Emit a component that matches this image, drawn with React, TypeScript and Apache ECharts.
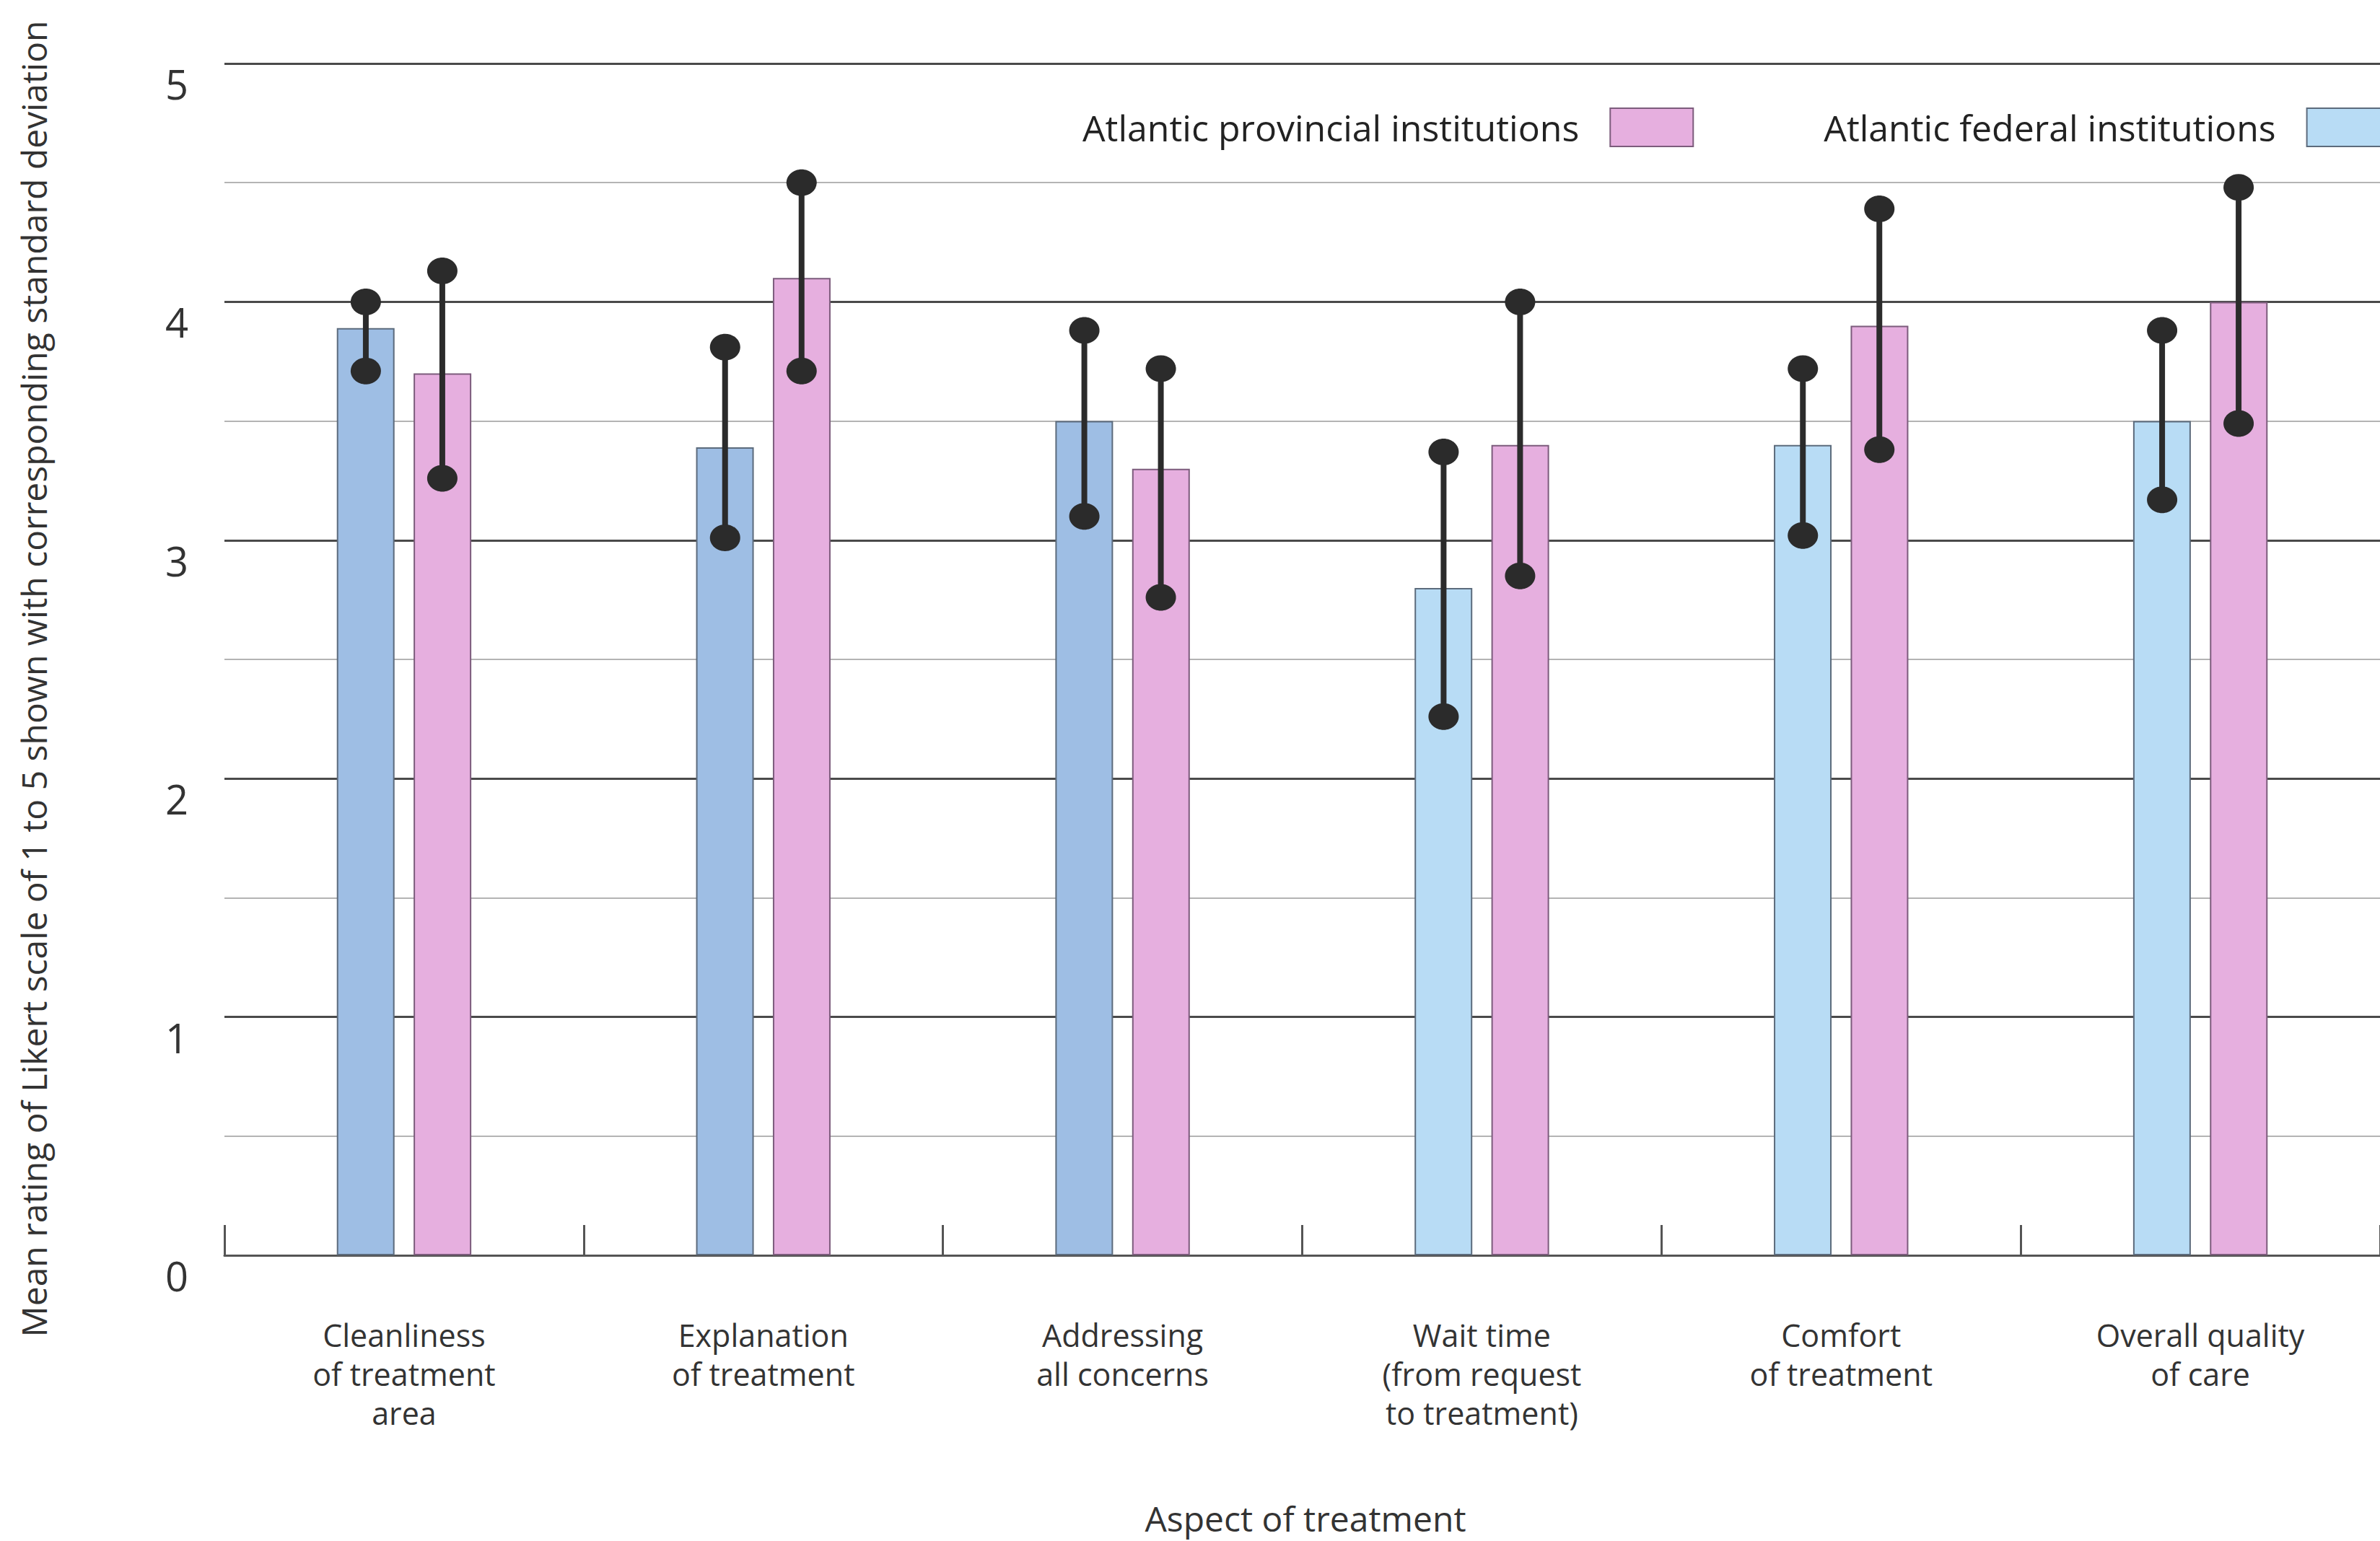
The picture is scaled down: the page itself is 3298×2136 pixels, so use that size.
import React, { useEffect, useRef } from "react";
import * as echarts from "echarts";

const categories = [
  "Cleanliness\nof treatment\narea",
  "Explanation\nof treatment",
  "Addressing\nall concerns",
  "Wait time\n(from request\nto treatment)",
  "Comfort\nof treatment",
  "Overall quality\nof care",
];
const yTicks = [0, 1, 2, 3, 4, 5];

const federalName = "Atlantic federal institutions";
const provincialName = "Atlantic provincial institutions";

const federalMean = [3.89, 3.39, 3.5, 2.8, 3.4, 3.5];
const federalLow = [3.71, 3.01, 3.1, 2.26, 3.02, 3.17];
const federalHigh = [4.0, 3.81, 3.88, 3.37, 3.72, 3.88];

const provincialMean = [3.7, 4.1, 3.3, 3.4, 3.9, 4.0];
const provincialLow = [3.26, 3.71, 2.76, 2.85, 3.38, 3.49];
const provincialHigh = [4.13, 4.5, 3.72, 4.0, 4.39, 4.48];

const FONT = "'Open Sans', 'Noto Sans', sans-serif";
const BAR_W = 80;
const BAR_OFFSET = 53;
const federalColors = ["#9ebee4", "#9ebee4", "#9ebee4", "#b8dcf5", "#b8dcf5", "#b8dcf5"];
const pinkColor = "#e6afdf";

function sdRender(offset: number) {
  return (params: any, api: any) => {
    const idx = api.value(0);
    const x = api.coord([idx, 0])[0] + offset;
    const yLow = api.coord([idx, api.value(1)])[1];
    const yHigh = api.coord([idx, api.value(2)])[1];
    const c = "#2b2b2b";
    return {
      type: "group",
      children: [
        { type: "line", shape: { x1: x, y1: yLow, x2: x, y2: yHigh }, style: { stroke: c, lineWidth: 8 } },
        { type: "ellipse", shape: { cx: x, cy: yHigh, rx: 21, ry: 18.5 }, style: { fill: c } },
        { type: "ellipse", shape: { cx: x, cy: yLow, rx: 21, ry: 18.5 }, style: { fill: c } },
      ],
    };
  };
}

export default function App() {
  const ref = useRef<HTMLDivElement>(null);
  useEffect(() => {
    if (!ref.current) return;
    const chart = echarts.init(ref.current, undefined, { renderer: "svg" });
    const option: any = {
      animation: false,
      backgroundColor: "#ffffff",
      textStyle: { fontFamily: FONT },
      grid: { left: 311, right: -7, top: 88, bottom: 396 },
      legend: {
        data: [provincialName, federalName],
        left: 1495,
        top: 144,
        align: "right",
        icon: "rect",
        itemWidth: 115,
        itemHeight: 53,
        itemGap: 180,
        selectedMode: false,
        textStyle: { fontSize: 50, color: "#222", fontFamily: FONT, padding: [0, 38, 0, 0] },
      },
      xAxis: {
        type: "category",
        data: categories,
        axisLine: { show: true, lineStyle: { color: "#555", width: 3 } },
        axisTick: { show: true, inside: true, length: 42, lineStyle: { color: "#555", width: 3 } },
        axisLabel: { fontSize: 43, lineHeight: 54, color: "#333", margin: 83, fontFamily: FONT, interval: 0 },
        splitLine: { show: false },
      },
      yAxis: {
        type: "value",
        min: 0,
        max: 5,
        interval: 1,
        axisLine: { show: false },
        axisTick: { show: false },
        axisLabel: {
          fontSize: 56,
          color: "#333",
          margin: 50,
          verticalAlign: "top",
          fontFamily: FONT,
          formatter: (v: number) => (yTicks.includes(v) ? String(v) : ""),
        },
        splitLine: { show: true, lineStyle: { color: "#4a4a4a", width: 3 } },
        minorTick: { show: false, splitNumber: 2 },
        minorSplitLine: { show: true, lineStyle: { color: "#b4b4b4", width: 2 } },
      },
      graphic: [
        {
          type: "text",
          x: 46,
          y: 941,
          rotation: Math.PI / 2,
          style: {
            text: "Mean rating of Likert scale of 1 to 5 shown with corresponding standard deviation",
            fontSize: 48,
            fontFamily: FONT,
            fill: "#333",
            textAlign: "center",
            textVerticalAlign: "middle",
          },
        },
        {
          type: "text",
          x: 1809,
          y: 2104,
          style: {
            text: "Aspect of treatment",
            fontSize: 48,
            fontFamily: FONT,
            fill: "#333",
            textAlign: "center",
            textVerticalAlign: "middle",
          },
        },
      ],
      series: [
        {
          name: federalName,
          type: "bar",
          barWidth: BAR_W,
          barGap: "33%",
          itemStyle: { color: "#b8dcf5", borderColor: "#5c6b7c", borderWidth: 2 },
          data: federalMean.map((v, i) => ({ value: v, itemStyle: { color: federalColors[i] } })),
        },
        {
          name: provincialName,
          type: "bar",
          barWidth: BAR_W,
          barGap: "33%",
          itemStyle: { color: pinkColor, borderColor: "#7c5c7c", borderWidth: 2 },
          data: provincialMean,
        },
        {
          name: "federal SD",
          type: "custom",
          renderItem: sdRender(-BAR_OFFSET),
          encode: { x: 0, y: [1, 2] },
          z: 10,
          data: federalMean.map((_, i) => [i, federalLow[i], federalHigh[i]]),
        },
        {
          name: "provincial SD",
          type: "custom",
          renderItem: sdRender(BAR_OFFSET),
          encode: { x: 0, y: [1, 2] },
          z: 10,
          data: provincialMean.map((_, i) => [i, provincialLow[i], provincialHigh[i]]),
        },
      ],
    };
    chart.setOption(option);
    return () => chart.dispose();
  }, []);
  return (
    <div
      ref={ref}
      style={{ position: "fixed", left: 0, top: 0, width: 3298, height: 2136, background: "#fff" }}
    />
  );
}
